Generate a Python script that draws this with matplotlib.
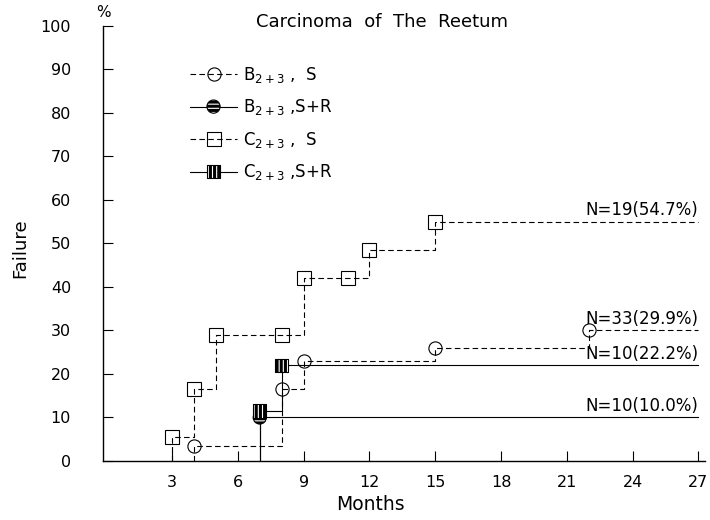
import matplotlib
matplotlib.use('Agg')
import matplotlib.pyplot as plt
from matplotlib.lines import Line2D
from matplotlib.legend_handler import HandlerTuple

plt.rcParams['font.family'] = ['DejaVu Sans']
plt.rcParams['mathtext.default'] = 'regular'
plt.rcParams['hatch.linewidth'] = 2.2

# data
end_month = 27
b_s_months = [4, 8, 9, 15, 22]
b_s_fail = [3.5, 16.5, 23, 26, 30]
b_sr_months = [7]
b_sr_fail = [10]
c_s_months = [3, 4, 5, 8, 9, 11, 12, 15]
c_s_fail = [5.5, 16.5, 29, 29, 42, 42, 48.5, 55]
c_sr_months = [7, 8]
c_sr_fail = [11.5, 22]

labels = ['B$_{2+3}$ ,  S', 'B$_{2+3}$ ,S+R', 'C$_{2+3}$ ,  S', 'C$_{2+3}$ ,S+R']
end_texts = ['N=33(29.9%)', 'N=10(10.0%)', 'N=19(54.7%)', 'N=10(22.2%)']

x_ticks = [3, 6, 9, 12, 15, 18, 21, 24, 27]
y_ticks = list(range(0, 101, 10))

DASH = (0, (5, 3))


def step_xy(months, fail):
    xs = [months[0]] + months + [end_month]
    ys = [0] + fail + [fail[-1]]
    return xs, ys


fig = plt.figure(figsize=(7.1, 5.2), dpi=100)
ax = fig.add_axes([0.145, 0.1135, 0.848, 0.8365])

series = [
    (b_s_months, b_s_fail, DASH, 'o', None),
    (b_sr_months, b_sr_fail, '-', 'o', '----'),
    (c_s_months, c_s_fail, DASH, 's', None),
    (c_sr_months, c_sr_fail, '-', 's', '||||'),
]

handles = []
for (m, f, ls, mk, hatch), txt in zip(series, end_texts):
    xs, ys = step_xy(m, f)
    ax.step(xs, ys, where='post', color='black', lw=0.8, linestyle=ls)
    if hatch is None:
        ax.plot(m, f, linestyle='none', marker=mk, markersize=9.5,
                markerfacecolor='none', markeredgecolor='black', mew=0.8)
        h = Line2D([], [], color='black', lw=0.8, linestyle=ls, marker=mk,
                   markersize=9.5, markerfacecolor='none', mew=0.8)
    else:
        sc = ax.scatter(m, f, marker=mk, s=90, facecolor='white',
                        edgecolor='black', hatch=hatch, linewidths=0.8, zorder=3)
        ln = Line2D([], [], color='black', lw=0.8, linestyle=ls)
        h = (ln, sc)
    handles.append(h)
    ax.text(end_month, f[-1] + 0.6, txt, ha='right', va='bottom', fontsize=12)

ax.legend(handles, labels, loc='upper left', bbox_to_anchor=(0.12, 0.945),
          frameon=False, fontsize=12, labelspacing=0.75, handlelength=2.8,
          handletextpad=0.35, scatteryoffsets=[0.5],
          handler_map={tuple: HandlerTuple(ndivide=1)})

ax.set_xlim(-0.15, 27.3)
ax.set_ylim(0, 100)
ax.set_xticks(x_ticks)
ax.set_yticks(y_ticks)
ax.tick_params(axis='y', direction='in', length=7, width=0.8, pad=23, labelsize=11.5)
ax.tick_params(axis='x', direction='in', length=7, width=0.8, pad=10, labelsize=11.5)
for s in ['top', 'right']:
    ax.spines[s].set_visible(False)
for s in ['left', 'bottom']:
    ax.spines[s].set_linewidth(1.0)

ax.text(0, 1.032, '%', transform=ax.transAxes, ha='center', va='center', fontsize=11)
fig.text(382 / 710, 1 - 22 / 520, 'Carcinoma  of  The  Reetum', ha='center', va='center', fontsize=13)
fig.text(20 / 710, 1 - 248 / 520, 'Failure', rotation=90, ha='center', va='center', fontsize=13)
fig.text(370 / 710, 1 - 505 / 520, 'Months', ha='center', va='center', fontsize=13.5)

plt.savefig('out.png', dpi=100)
